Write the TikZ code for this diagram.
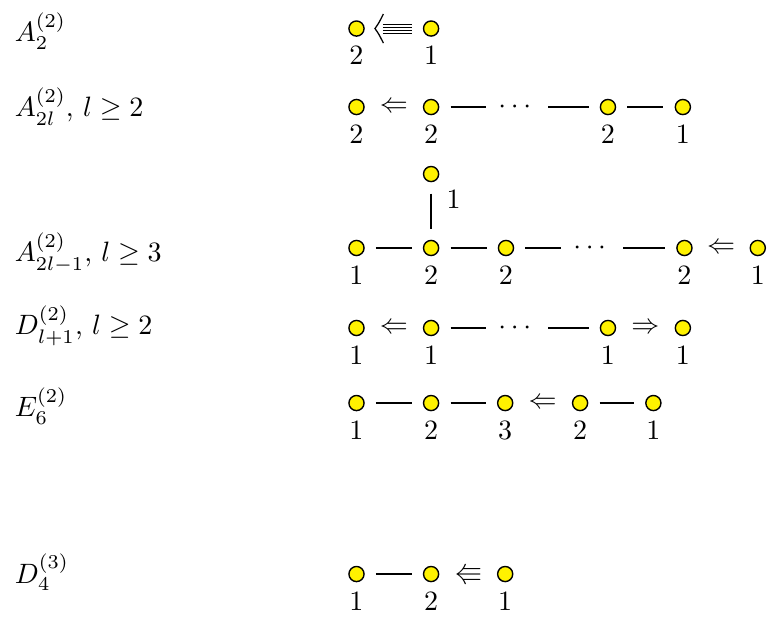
\documentclass[tikz,border=0pt]{standalone}
\usepackage{amsmath}
\usepackage{amssymb}
\usepackage{tikz}

\begin{document}
\begin{tikzpicture}[
  vertex/.style={circle, draw=black, fill=yellow, line width=0.5pt, minimum size=5.4pt, inner sep=0pt},
  v/.style={vertex, label={below:$#1$}},
  dots/.style={inner sep=0.3pt},
  bond/.style={line width=0.45pt, shorten <=4pt, shorten >=4pt},
  algname/.style={anchor=base west, inner sep=0pt}]
\useasboundingbox (0,0) rectangle (9.651,-7.731);

% names of the algebras
\node[algname] (nA2) at (0.18,-0.523) {$A^{(2)}_2$};
\node[algname] (nA2l) at (0.18,-1.464) {$A^{(2)}_{2l}$, $l\geq 2$};
\node[algname] (nA2l1) at (0.18,-3.284) {$A^{(2)}_{2l-1}$, $l\geq 3$};
\node[algname] (nDl) at (0.18,-4.204) {$D^{(2)}_{l+1}$, $l\geq 2$};
\node[algname] (nE6) at (0.18,-5.233) {$E^{(2)}_6$};
\node[algname] (nD4) at (0.18,-7.317) {$D^{(3)}_4$};

% A_2^(2)
\node[v=2] (a1) at (4.474,-0.358) {};
\node[v=1] (a2) at (5.41,-0.358) {};
\foreach \dy in {-1.6,-0.55,0.55,1.6}
  \draw[line width=0.35pt] ([shift={(9.4pt,\dy pt)}]a1.center) -- ([shift={(-6.8pt,\dy pt)}]a2.center);
\draw[line width=0.45pt] ([shift={(9.6pt,5.2pt)}]a1.center) .. controls ([shift={(8pt,2pt)}]a1.center) .. ([shift={(6.6pt,0pt)}]a1.center)
  .. controls ([shift={(8pt,-2pt)}]a1.center) .. ([shift={(9.6pt,-5.2pt)}]a1.center);

% A_2l^(2)
\node[v=2] (b1) at (4.474,-1.343) {};
\node[v=2] (b2) at (5.41,-1.343) {};
\node[dots] (bdots) at (6.49,-1.343) {$\cdots$};
\node[v=2] (b3) at (7.63,-1.343) {};
\node[v=1] (b4) at (8.57,-1.343) {};
\path (b2) -- node {$\Leftarrow$} (b1);
\draw[bond] (b2) -- (bdots);
\draw[bond] (bdots) -- (b3);
\draw[bond] (b3) -- (b4);

% A_2l-1^(2)
\node[vertex] (c0) at (5.41,-2.184) {};
\node[v=1] (c1) at (4.474,-3.112) {};
\node[v=2] (c2) at (5.41,-3.112) {};
\node[v=2] (c3) at (6.35,-3.112) {};
\node[dots] (cdots) at (7.43,-3.112) {$\cdots$};
\node[v=2] (c4) at (8.59,-3.112) {};
\node[v=1] (c5) at (9.51,-3.112) {};
\draw[bond] (c0) -- node[right=2pt, pos=0.3] {$1$} (c2);
\draw[bond] (c1) -- (c2);
\draw[bond] (c2) -- (c3);
\draw[bond] (c3) -- (cdots);
\draw[bond] (cdots) -- (c4);
\path (c5) -- node {$\Leftarrow$} (c4);

% D_l+1^(2)
\node[v=1] (d1) at (4.474,-4.116) {};
\node[v=1] (d2) at (5.41,-4.116) {};
\node[dots] (ddots) at (6.49,-4.116) {$\cdots$};
\node[v=1] (d3) at (7.63,-4.116) {};
\node[v=1] (d4) at (8.57,-4.116) {};
\path (d2) -- node {$\Leftarrow$} (d1);
\draw[bond] (d2) -- (ddots);
\draw[bond] (ddots) -- (d3);
\path (d3) -- node {$\Rightarrow$} (d4);

% E_6^(2)
\node[v=1] (e1) at (4.474,-5.058) {};
\node[v=2] (e2) at (5.41,-5.058) {};
\node[v=3] (e3) at (6.34,-5.058) {};
\node[v=2] (e4) at (7.28,-5.058) {};
\node[v=1] (e5) at (8.2,-5.058) {};
\draw[bond] (e1) -- (e2);
\draw[bond] (e2) -- (e3);
\path (e4) -- node {$\Leftarrow$} (e3);
\draw[bond] (e4) -- (e5);

% D_4^(3)
\node[v=1] (f1) at (4.474,-7.204) {};
\node[v=2] (f2) at (5.41,-7.204) {};
\node[v=1] (f3) at (6.34,-7.204) {};
\draw[bond] (f1) -- (f2);
\path (f3) -- node {$\Lleftarrow$} (f2);
\end{tikzpicture}
\end{document}
